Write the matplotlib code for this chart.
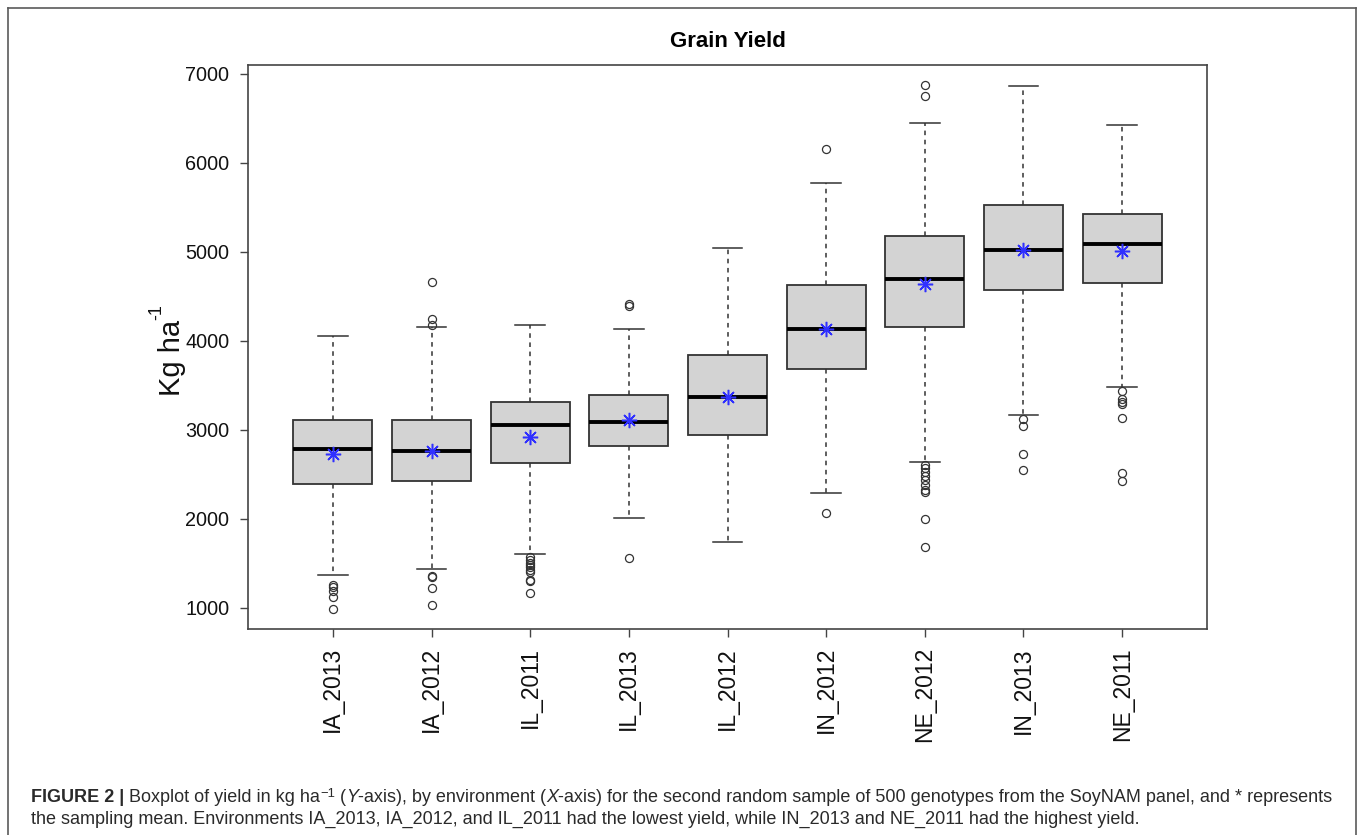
import matplotlib
matplotlib.use("Agg")
import matplotlib.pyplot as plt
from matplotlib.lines import Line2D

plt.rcParams["font.family"] = ["Liberation Sans", "DejaVu Sans"]

# ---- data (kg/ha) ----
environments = ["IA_2013", "IA_2012", "IL_2011", "IL_2013", "IL_2012",
                "IN_2012", "NE_2012", "IN_2013", "NE_2011"]
whisker_low = [1367, 1443, 1609, 2015, 1744, 2290, 2637, 3170, 3479]
q1 = [2392, 2430, 2624, 2815, 2946, 3686, 4160, 4571, 4651]
medians = [2781, 2760, 3052, 3094, 3369, 4139, 4698, 5024, 5087]
q3 = [3107, 3115, 3314, 3394, 3843, 4626, 5185, 5532, 5430]
whisker_high = [4059, 4152, 4177, 4135, 5049, 5773, 6454, 6860, 6424]
means = [2734, 2768, 2925, 3115, 3373, 4135, 4639, 5024, 5011]
outliers = [
    [1257, 1240, 1194, 1118, 991],
    [4664, 4249, 4177, 1355, 1347, 1224, 1033],
    [1575, 1541, 1511, 1486, 1456, 1427, 1406, 1317, 1300, 1169],
    [4419, 4393, 1558],
    [],
    [6162, 2066],
    [6877, 6755, 2607, 2569, 2527, 2480, 2438, 2387, 2324, 2303, 2002, 1685],
    [3128, 3043, 2726, 2552],
    [3437, 3352, 3310, 3293, 3132, 2514, 2430],
]
y_ticks = [1000, 2000, 3000, 4000, 5000, 6000, 7000]

W, H = 1360, 835
fig = plt.figure(figsize=(W / 100, H / 100), dpi=100)
fig.patch.set_facecolor("white")

# outer panel frame (left, top, right)
frame_kw = dict(color="#5a5a5a", lw=1.2, transform=fig.transFigure)
fig.add_artist(Line2D([8 / W, 8 / W], [0, 1 - 8 / H], **frame_kw))
fig.add_artist(Line2D([8 / W, 1356 / W], [1 - 8 / H, 1 - 8 / H], **frame_kw))
fig.add_artist(Line2D([1356 / W, 1356 / W], [0, 1 - 8 / H], **frame_kw))

ax = fig.add_axes([248 / W, 1 - 629 / H, (1207 - 248) / W, (629 - 65) / H])

positions = list(range(1, len(environments) + 1))
stats = []
for i, name in enumerate(environments):
    stats.append(dict(label=name, med=medians[i], q1=q1[i], q3=q3[i],
                      whislo=whisker_low[i], whishi=whisker_high[i],
                      fliers=outliers[i], mean=means[i]))

edge = "#333333"
ax.bxp(stats, positions=positions, widths=0.8, capwidths=0.3,
       patch_artist=True, showfliers=True, showmeans=False,
       boxprops=dict(facecolor="#d3d3d3", edgecolor=edge, linewidth=1.3),
       medianprops=dict(color="black", linewidth=2.8, solid_capstyle="butt"),
       whiskerprops=dict(color=edge, linewidth=1.1, linestyle=(0, (3, 3))),
       capprops=dict(color=edge, linewidth=1.1),
       flierprops=dict(marker="o", markerfacecolor="none",
                       markeredgecolor=edge, markersize=5.8,
                       markeredgewidth=0.9, linestyle="none"))

# sampling means
ax.plot(positions, means, linestyle="none", marker=(8, 2, 0),
        markersize=11, markeredgewidth=1.1, color="#3030ff", zorder=5)

ax.set_xlim(0.14, 9.86)
ax.set_ylim(764, 7101)
ax.set_yticks(y_ticks)
ax.set_yticklabels([str(v) for v in y_ticks])
ax.set_xticks(positions)
ax.set_xticklabels(environments, rotation=90)

for s in ax.spines.values():
    s.set_color("#444444")
    s.set_linewidth(1.2)
ax.tick_params(axis="y", direction="out", length=6, width=1.0,
               color="#444444", pad=7.5, labelsize=14.3, labelcolor="#111111")
ax.tick_params(axis="x", direction="out", length=6, width=1.0,
               color="#444444", pad=7, labelsize=16.5, labelcolor="#111111")

ax.set_title("Grain Yield", fontsize=16, fontweight="bold", pad=13)

# y-axis label with a small raised exponent
fig.text(172 / W, 1 - 358 / H, "Kg ha", rotation=90, fontsize=21,
         ha="center", va="center", color="#111111")
fig.text(157 / W, 1 - 312 / H, "-1", rotation=90, fontsize=13,
         ha="center", va="center", color="#111111")

# ---- caption, laid out as runs of differently styled text ----
renderer = fig.canvas.get_renderer()
cap_size = 13.0
cap_color = "#2a2a2a"


def draw_runs(x_px, y_px, runs):
    x = x_px
    for text, kw in runs:
        kw = dict(kw)
        dy = kw.pop("dy", 0)
        size = kw.pop("size", cap_size)
        fig.text(x / W, 1 - (y_px - dy) / H, text, fontsize=size,
                 color=cap_color, va="baseline", ha="left", **kw)
        a = fig.text(0, 0, text + "|", fontsize=size, **kw)
        b = fig.text(0, 0, "|", fontsize=size, **kw)
        x += a.get_window_extent(renderer).width - b.get_window_extent(renderer).width
        a.remove()
        b.remove()


draw_runs(31, 802, [
    ("FIGURE 2 | ", dict(fontweight="bold")),
    ("Boxplot of yield in kg ha", {}),
    ("\u22121", dict(size=cap_size * 0.72, dy=5)),
    (" (", {}),
    ("Y", dict(style="italic")),
    ("-axis), by environment (", {}),
    ("X", dict(style="italic")),
    ("-axis) for the second random sample of 500 genotypes from the SoyNAM panel, and * represents", {}),
])
draw_runs(31, 824, [
    ("the sampling mean. Environments IA_2013, IA_2012, and IL_2011 had the lowest yield, "
     "while IN_2013 and NE_2011 had the highest yield.", {}),
])

fig.savefig("out.png", dpi=100, facecolor="white")
